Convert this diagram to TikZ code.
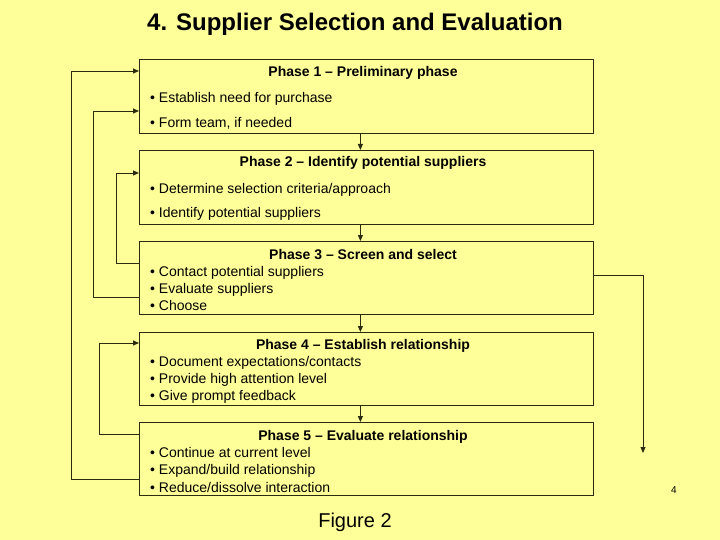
\documentclass[tikz,border=0pt]{standalone}
\usepackage{fontspec}
\setmainfont{Liberation Sans}
\usetikzlibrary{arrows.meta,calc}
\definecolor{bg}{HTML}{FFFF99}
\definecolor{ln}{HTML}{2B2B10}
\begin{document}
\begin{tikzpicture}[x=1pt,y=-1pt,
  box/.style={draw=ln, line width=0.8pt, fill=bg, minimum width=454pt, inner sep=0pt, anchor=north west},
  head/.style={font=\fontsize{14}{16}\selectfont\bfseries, inner sep=0pt, anchor=base},
  item/.style={font=\fontsize{14}{16}\selectfont, inner sep=0pt, anchor=base west},
  arr/.style={draw=ln, line width=0.8pt, -{Triangle[length=6pt,width=5pt]}}]
\fill[bg] (0,0) rectangle (720,540);
\useasboundingbox (0,0) rectangle (720,540);
\node[font=\fontsize{24}{28}\selectfont\bfseries, anchor=base west, inner sep=0pt] (title) at (147,31) {4. Supplier Selection and Evaluation};
\node[box, minimum height=74pt] (b1) at (139,59) {};
\node[box, minimum height=74pt] (b2) at (139,150) {};
\node[box, minimum height=73pt] (b3) at (139,241) {};
\node[box, minimum height=73pt] (b4) at (139,332) {};
\node[box, minimum height=73pt] (b5) at (139,422) {};
\node[head] (h1) at (363,77) {Phase 1 – Preliminary phase};
\node[item] (t11) at (150,103) {• Establish need for purchase};
\node[item] (t12) at (150,128) {• Form team, if needed};
\node[head] (h2) at (363,167) {Phase 2 – Identify potential suppliers};
\node[item] (t21) at (150,194) {• Determine selection criteria/approach};
\node[item] (t22) at (150,218) {• Identify potential suppliers};
\node[head] (h3) at (363,259) {Phase 3 – Screen and select};
\node[item] (t31) at (150,276) {• Contact potential suppliers};
\node[item] (t32) at (150,293) {• Evaluate suppliers};
\node[item] (t33) at (150,310) {• Choose};
\node[head] (h4) at (363,349) {Phase 4 – Establish relationship};
\node[item] (t41) at (150,366) {• Document expectations/contacts};
\node[item] (t42) at (150,383) {• Provide high attention level};
\node[item] (t43) at (150,400) {• Give prompt feedback};
\node[head] (h5) at (363,440) {Phase 5 – Evaluate relationship};
\node[item] (t51) at (150,457) {• Continue at current level};
\node[item] (t52) at (150,474) {• Expand/build relationship};
\node[item] (t53) at (150,492) {• Reduce/dissolve interaction};
\node[font=\fontsize{20}{24}\selectfont, inner sep=0pt, anchor=base] (fig) at (355,527) {Figure 2};
\node[font=\fontsize{10}{12}\selectfont, inner sep=0pt, anchor=base] (pg) at (674,493) {4};
% down arrows
\draw[arr] ($(b1.south)+(-6,0)$) -- ($(b2.north)+(-6,0)$);
\draw[arr] ($(b2.south)+(-6,0)$) -- ($(b3.north)+(-6,0)$);
\draw[arr] ($(b3.south)+(-6,0)$) -- ($(b4.north)+(-6,0)$);
\draw[arr] ($(b4.south)+(-6,0)$) -- ($(b5.north)+(-6,0)$);
% feedback loops
\draw[arr] ($(b5.north west)+(0,57)$) -- (71,479) -- (71,71) -- ($(b1.north west)+(0,12)$);
\draw[arr] ($(b3.north west)+(0,56)$) -- (93,297) -- (93,111) -- ($(b1.north west)+(0,52)$);
\draw[arr] ($(b3.north west)+(0,22)$) -- (116,263) -- (116,173) -- ($(b2.north west)+(0,23)$);
\draw[arr] ($(b5.north west)+(0,12)$) -- (99,434) -- (99,343) -- ($(b4.north west)+(0,11)$);
\coordinate (exit) at (643,453);
\draw[arr] ($(b3.north east)+(0,34)$) -- (643,275) -- (exit);
\end{tikzpicture}
\end{document}
